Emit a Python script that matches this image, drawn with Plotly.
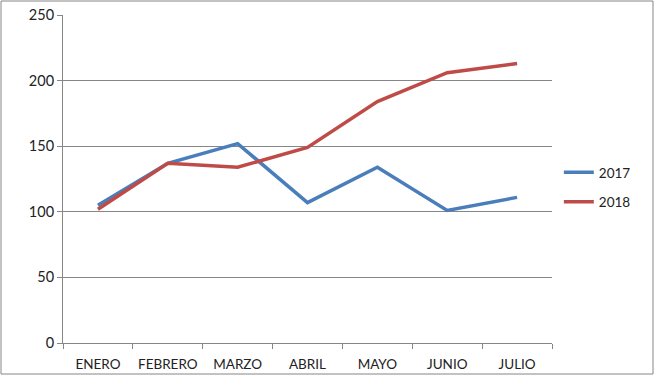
import plotly.graph_objects as go

months = ["ENERO", "FEBRERO", "MARZO", "ABRIL", "MAYO", "JUNIO", "JULIO"]
v2017 = [105, 137, 152, 107, 134, 101, 111]
v2018 = [102, 137, 134, 149, 184, 206, 213]
y_ticks = [0, 50, 100, 150, 200, 250]

W, H = 655, 376
L, R, T, B = 63, 103, 15, 33
pw, ph = W - L - R, H - T - B

fig = go.Figure()
fig.add_trace(go.Scatter(x=months, y=v2017, mode="lines", name="2017",
                         legendgroup="a",
                         line=dict(color="#4A7EBB", width=3.5)))
fig.add_trace(go.Scatter(x=months, y=v2018, mode="lines", name="2018",
                         legendgroup="b",
                         line=dict(color="#BE4B48", width=3.5)))

font = dict(family="Lato, Liberation Sans, sans-serif", size=13.5, color="#222")

fig.update_layout(
    width=W, height=H,
    margin=dict(l=L, r=R, t=T, b=B, autoexpand=False),
    paper_bgcolor="white", plot_bgcolor="white",
    font=font,
    legend=dict(x=1.014, y=0.474, xanchor="left", yanchor="middle",
                traceorder="grouped", tracegroupgap=9,
                font=font,
                bgcolor="rgba(0,0,0,0)"),
    xaxis=dict(range=[-0.5, 6.5], showgrid=False, showline=True,
               linecolor="#868686", linewidth=1,
               ticks="outside", tickson="boundaries", ticklen=5, tickcolor="#868686",
               ticklabelstandoff=9,
               tickfont=font, fixedrange=True, automargin=False),
    yaxis=dict(range=[0, 250], tickvals=y_ticks, showgrid=True, gridcolor="#868686",
               gridwidth=1, showline=True, linecolor="#868686", linewidth=1,
               ticks="outside", ticklen=5, tickcolor="#868686", zeroline=False,
               tickfont=dict(family="Lato, Liberation Sans, sans-serif", size=14.5, color="#222"),
               fixedrange=True, automargin=False),
    shapes=[dict(type="rect", xref="paper", yref="paper",
                 x0=(1 - L) / pw, x1=(W - 2 - L) / pw,
                 y0=(H - B - (H - 2)) / ph, y1=(H - B - 1) / ph,
                 line=dict(color="#868686", width=1), fillcolor="rgba(0,0,0,0)",
                 layer="below")],
)

fig.write_html("out.html", config={"displayModeBar": False},
               post_script="document.body.style.margin='0';document.body.style.overflow='hidden';")
